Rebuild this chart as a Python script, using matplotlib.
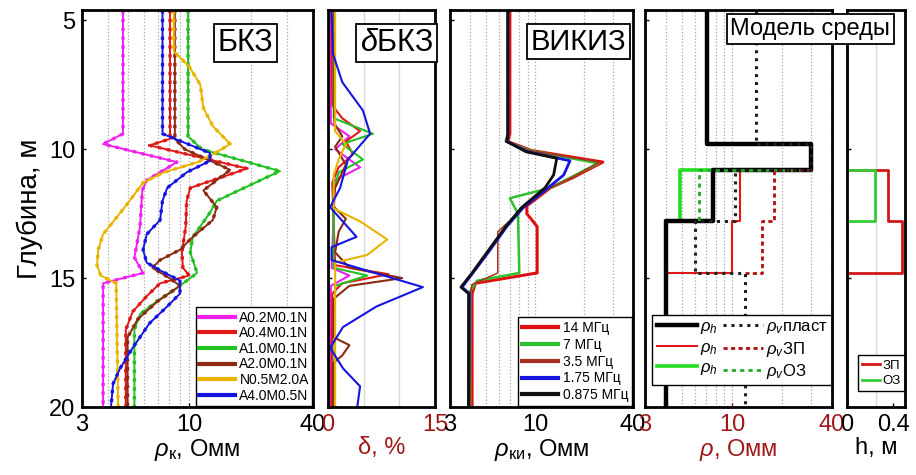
import numpy as np
import matplotlib
matplotlib.use('Agg')
import matplotlib.pyplot as plt
from matplotlib.ticker import LogLocator, NullFormatter, FixedLocator

plt.rcParams['font.family'] = ['Liberation Sans', 'DejaVu Sans']
plt.rcParams['mathtext.fontset'] = 'custom'
plt.rcParams['mathtext.it'] = 'Liberation Sans:italic'
plt.rcParams['mathtext.rm'] = 'Liberation Sans'

DEPTH_TOP, DEPTH_BOT = 4.6, 20.0
DARKRED = '#a01818'

# --- БКЗ: apparent resistivity, Ohm*m, vs depth, m ---
bkz_labels = ['A0.2M0.1N', 'A0.4M0.1N', 'A1.0M0.1N', 'A2.0M0.1N', 'N0.5M2.0A', 'A4.0M0.5N']
bkz_colors = ['#f020f0', '#e01818', '#22c022', '#8c2a14', '#e8b400', '#1515e0']

a02_d = [4.6, 9.4, 9.8, 10.5, 11.2, 11.6, 13.0, 14.2, 14.8, 15.2, 20]
a02_r = [4.75, 4.75, 3.8, 8.7, 6.2, 5.9, 5.75, 5.4, 5.95, 3.8, 3.8]
a04_d = [4.6, 9.6, 9.85, 10.75, 11.5, 12.0, 13.0, 14.0, 14.6, 14.9, 15.2, 15.7, 16.3, 17.0, 20]
a04_r = [8.05, 8.05, 6.4, 19.1, 10.1, 9.7, 9.6, 9.2, 9.3, 10.0, 7.2, 6.2, 5.3, 4.9, 4.9]
a10_d = [4.6, 9.5, 10.0, 10.85, 12.0, 12.5, 13.4, 14.0, 14.8, 15.3, 15.9, 16.4, 17.0, 20]
a10_r = [9.85, 9.85, 11.5, 27.6, 13.6, 12.5, 10.4, 10.1, 10.9, 9.0, 6.95, 5.75, 5.4, 5.4]
a20_d = [4.6, 9.6, 10.0, 10.8, 11.6, 12.25, 12.75, 13.4, 13.9, 14.3, 14.6, 15.0, 15.3, 15.9, 16.6, 17.3, 20]
a20_r = [8.5, 8.5, 9.5, 15.8, 11.7, 13.6, 13.0, 10.4, 9.0, 7.2, 6.6, 8.0, 9.0, 7.0, 5.6, 5.0, 5.0]
n05_d = [4.6, 6.2, 6.8, 7.5, 8.4, 9.1, 9.8, 10.2, 10.5, 10.9, 11.3, 12.2, 13.3, 13.9, 14.5, 14.9, 15.2, 20]
n05_r = [8.4, 8.4, 10.0, 11.3, 11.7, 13.0, 15.8, 13.0, 11.0, 7.5, 5.95, 4.9, 3.8, 3.6, 3.55, 3.7, 4.4, 4.5]
a40_d = [4.6, 9.4, 10.15, 10.45, 10.9, 11.5, 12.0, 12.75, 13.3, 13.9, 14.4, 14.7, 15.1, 15.6, 16.1, 16.75, 17.7, 18.5, 19.1, 20]
a40_r = [7.4, 7.4, 12.6, 12.6, 9.7, 7.8, 7.4, 7.2, 6.2, 5.95, 6.2, 7.2, 9.0, 9.0, 7.8, 6.4, 5.3, 4.6, 4.25, 4.15]

bkz_depths = [a02_d, a04_d, a10_d, a20_d, n05_d, a40_d]
bkz_rho = [a02_r, a04_r, a10_r, a20_r, n05_r, a40_r]

# --- δБКЗ: relative misfit, % ---
d_a02_d = [4.6, 9.0, 9.5, 10.0, 10.7, 11.2, 14.6, 14.9, 15.3, 20]
d_a02_v = [0.3, 0.4, 3.0, 1.0, 4.5, 1.0, 0.5, 3.0, 0.4, 0.3]
d_a04_d = [4.6, 8.3, 8.8, 9.3, 9.7, 10.2, 10.7, 11.3, 14.5, 14.85, 15.2, 15.6, 20]
d_a04_v = [0.5, 0.6, 2.0, 4.5, 2.5, 3.5, 1.5, 0.6, 1.0, 8.5, 2.0, 0.6, 0.5]
d_a10_d = [4.6, 8.8, 9.4, 9.8, 10.4, 10.9, 11.6, 14.6, 14.9, 15.3, 20]
d_a10_v = [0.8, 0.8, 6.3, 2.0, 4.9, 1.5, 0.8, 0.8, 5.5, 1.0, 0.8]
d_a20_d = [4.6, 9.0, 9.5, 9.9, 10.6, 11.5, 12.2, 12.7, 13.2, 14.0, 14.6, 15.0, 15.3, 15.8, 17.3, 17.6, 18.0, 18.3, 20]
d_a20_v = [0.9, 0.9, 2.0, 1.0, 2.5, 1.0, 0.7, 2.5, 1.5, 1.0, 3.0, 10.4, 3.0, 0.8, 0.8, 3.0, 2.0, 0.7, 0.7]
d_n05_d = [4.6, 9.3, 9.8, 10.4, 11.0, 12.3, 12.8, 13.5, 14.1, 14.4, 20]
d_n05_v = [1.0, 1.0, 2.5, 1.5, 0.8, 0.8, 4.5, 8.3, 5.5, 1.0, 1.0]
d_a40_d = [4.6, 6.3, 7.4, 8.5, 9.4, 10.4, 11.5, 12.25, 13.4, 13.8, 14.3, 15.35, 16.1, 16.9, 17.7, 18.5, 19.2, 20]
d_a40_v = [0.5, 0.7, 2.0, 4.9, 5.9, 2.8, 1.7, 0.3, 4.0, 0.5, 0.5, 13.3, 6.8, 2.1, 0.3, 2.1, 4.5, 4.1]

delta_depths = [d_a02_d, d_a04_d, d_a10_d, d_a20_d, d_n05_d, d_a40_d]
delta_vals = [d_a02_v, d_a04_v, d_a10_v, d_a20_v, d_n05_v, d_a40_v]

# --- ВИКИЗ: apparent resistivity ---
vik_labels = ['14 МГц', '7 МГц', '3.5 МГц', '1.75 МГц', '0.875 МГц']
vik_colors = ['#e01010', '#30c030', '#a83020', '#1515e0', '#101010']
vik_widths = [2.2, 1.8, 1.1, 2.0, 2.0]

f14_d = [4.6, 9.4, 9.7, 10.05, 10.5, 11.1, 11.5, 12.2, 12.5, 13.0, 14.8, 15.2, 15.6, 20]
f14_r = [7.0, 7.0, 6.8, 9.5, 26.1, 17.1, 12.4, 8.9, 8.9, 10.3, 10.3, 4.3, 4.1, 4.1]
f7_d = [4.6, 9.4, 9.7, 10.05, 10.55, 11.1, 11.5, 11.9, 12.5, 14.8, 15.1, 15.5, 20]
f7_r = [6.8, 6.8, 6.6, 9.3, 24.4, 16.5, 12.4, 7.0, 7.85, 8.0, 4.4, 4.0, 4.0]
f35_d = [4.6, 9.4, 9.7, 10.05, 10.5, 11.1, 11.5, 12.2, 13.2, 14.8, 15.25, 15.6, 20]
f35_r = [6.8, 6.8, 6.6, 9.2, 24.8, 16.8, 12.4, 8.8, 5.9, 5.9, 4.1, 4.0, 4.0]
f175_d = [4.6, 9.4, 9.7, 10.1, 10.45, 11.0, 11.5, 12.25, 13.0, 13.9, 14.8, 15.35, 15.6, 20]
f175_r = [6.8, 6.8, 6.7, 9.0, 16.4, 15.0, 12.0, 8.5, 6.7, 5.3, 4.15, 3.56, 3.95, 3.9]
f0875_d = [4.6, 9.4, 9.7, 10.1, 10.35, 11.0, 11.5, 12.25, 13.0, 13.9, 14.8, 15.35, 15.6, 20]
f0875_r = [6.8, 6.8, 6.7, 8.8, 13.6, 13.0, 11.5, 8.3, 6.6, 5.2, 4.1, 3.5, 3.9, 3.9]

vik_depths = [f14_d, f7_d, f35_d, f175_d, f0875_d]
vik_rho = [f14_r, f7_r, f35_r, f175_r, f0875_r]

# --- модель среды: layer boundaries and properties ---
bounds = np.array([4.6, 9.8, 10.8, 12.8, 14.8, 20.0])
rho_h_plast = np.array([7.1, 30.0, 7.7, 4.0, 4.0])
rho_v_plast = np.array([14.0, 30.0, 10.5, 6.0, 12.0])
rho_h_zp = np.array([7.1, 30.0, 11.2, 10.0, 4.0])
rho_v_zp = np.array([14.0, 30.0, 18.0, 15.2, 12.0])
rho_h_oz = np.array([7.1, 30.0, 4.9, 4.0, 4.0])
rho_v_oz = np.array([14.0, 30.0, 6.3, 6.0, 12.0])
h_zp = np.array([0.0, 0.0, 0.35, 0.47, 0.0])
h_oz = np.array([0.0, 0.0, 0.24, 0.0, 0.0])


def step_xy(b, vals):
    y = np.repeat(b, 2)[1:-1]
    x = np.repeat(vals, 2)
    return x, y


def zone_xy(b, vals, base, h):
    # only the invaded layers, joined to the formation curve above and below
    idx = np.flatnonzero(h > 0)
    i0, i1 = idx[0], idx[-1]
    x, y = step_xy(b[i0:i1 + 2], vals[i0:i1 + 1])
    x = np.concatenate([[base[i0 - 1]], x, [base[i1 + 1]]])
    y = np.concatenate([[b[i0]], y, [b[i1 + 1]]])
    return x, y


fig = plt.figure(figsize=(9.16, 4.75), dpi=100)
H = 1 - 407 / 475
top = 1 - 10 / 475
axpos = [(82, 313), (328, 435), (450, 633), (645, 832), (847, 905)]
axes = []
for i, (x0, x1) in enumerate(axpos):
    ax = fig.add_axes([x0 / 916, H, (x1 - x0) / 916, top - H],
                      sharey=axes[0] if axes else None)
    axes.append(ax)
ax1, ax2, ax3, ax4, ax5 = axes


def style(ax, tickcolor='black'):
    ax.set_ylim(DEPTH_BOT, DEPTH_TOP)
    for sp in ax.spines.values():
        sp.set_linewidth(2.0)
        sp.set_zorder(10)
    ax.tick_params(direction='in', length=3, width=1, labelsize=17, pad=5)
    ax.tick_params(axis='x', colors=tickcolor, labelcolor=tickcolor)
    ax.tick_params(axis='x', which='minor', length=0)
    ax.tick_params(axis='y', colors='black')
    ax.set_yticks([5, 10, 15, 20])


def log_axis(ax):
    ax.set_xscale('log')
    ax.set_xlim(3, 40)
    ax.xaxis.set_major_locator(FixedLocator([3, 10, 40]))
    ax.set_xticklabels(['3', '10', '40'])
    ax.xaxis.set_minor_locator(LogLocator(base=10, subs=np.arange(2, 10)))
    ax.xaxis.set_minor_formatter(NullFormatter())
    ax.grid(True, which='both', axis='x', ls=':', color='0.65', lw=0.9)


def title_box(ax, text, x, size):
    ax.text(x, 0.955, text, transform=ax.transAxes, ha='right', va='top',
            fontsize=size, zorder=20, clip_on=False,
            bbox=dict(boxstyle='square,pad=0.12', fc='white', ec='black', lw=1.3))


# БКЗ
style(ax1)
log_axis(ax1)
for d, r, c, lab in zip(bkz_depths, bkz_rho, bkz_colors, bkz_labels):
    ax1.plot(r, d, color=c, lw=1.4, label=lab)
    ax1.plot(r, d, color=c, lw=2.4, ls=':')
ax1.set_ylabel('Глубина, м', fontsize=20, labelpad=4)
ax1.set_xlabel(r'$\rho_{\mathrm{к}}$, Омм', fontsize=17, labelpad=1)
title_box(ax1, 'БКЗ', 0.83, 22)
leg = ax1.legend(loc='lower right', fontsize=10, handlelength=2.6, handletextpad=0.3,
                 labelspacing=0.12, borderpad=0.25, borderaxespad=0.05,
                 fancybox=False, edgecolor='black', framealpha=1)
leg.get_frame().set_linewidth(1.0)
for ln in leg.get_lines():
    ln.set_linewidth(3)

# δБКЗ
style(ax2, DARKRED)
ax2.set_xlim(0, 15)
ax2.set_xticks([0, 15])
ax2.xaxis.set_minor_locator(FixedLocator([5, 10]))
ax2.grid(True, which='minor', axis='x', color='0.85', lw=1.0)
for d, v, c in zip(delta_depths, delta_vals, bkz_colors):
    ax2.plot(v, d, color=c, lw=1.5)
ax2.tick_params(axis='y', labelleft=False)
ax2.set_xlabel('δ, %', fontsize=17, color=DARKRED, labelpad=1)
title_box(ax2, r'$\delta$БКЗ', 0.985, 22)

# ВИКИЗ
style(ax3)
log_axis(ax3)
for d, r, c, w, lab in zip(vik_depths, vik_rho, vik_colors, vik_widths, vik_labels):
    ax3.plot(r, d, color=c, lw=w, label=lab)
ax3.tick_params(axis='y', labelleft=False)
ax3.set_xlabel(r'$\rho_{\mathrm{ки}}$, Омм', fontsize=17, labelpad=1)
title_box(ax3, 'ВИКИЗ', 0.965, 21)
leg = ax3.legend(loc='lower right', fontsize=10, handlelength=2.6, handletextpad=0.3,
                 labelspacing=0.2, borderpad=0.3, borderaxespad=0.05,
                 fancybox=False, edgecolor='black', framealpha=1)
leg.get_frame().set_linewidth(1.0)
for ln in leg.get_lines():
    ln.set_linewidth(3)

# модель среды
style(ax4, DARKRED)
log_axis(ax4)
x, y = zone_xy(bounds, rho_h_oz, rho_h_plast, h_oz)
l_oz_h, = ax4.plot(x, y, color='#22dd22', lw=2.6)
x, y = zone_xy(bounds, rho_h_zp, rho_h_plast, h_zp)
l_zp_h, = ax4.plot(x, y, color='#e01818', lw=1.5)
x, y = step_xy(bounds, rho_h_plast)
l_pl_h, = ax4.plot(x, y, color='black', lw=3.2)
x, y = zone_xy(bounds, rho_v_oz, rho_v_plast, h_oz)
l_oz_v, = ax4.plot(x, y, color='#22aa22', lw=2.0, ls=(0, (1.5, 1.5)))
x, y = zone_xy(bounds, rho_v_zp, rho_v_plast, h_zp)
l_zp_v, = ax4.plot(x, y, color='#b01010', lw=2.0, ls=(0, (1.5, 1.2)))
x, y = step_xy(bounds, rho_v_plast)
l_pl_v, = ax4.plot(x, y, color='#202020', lw=2.2, ls=(0, (1, 1.6)))
ax4.tick_params(axis='y', labelleft=False)
ax4.set_xlabel(r'$\rho$, Омм', fontsize=17, color=DARKRED, labelpad=1)
leg = ax4.legend([l_pl_h, l_zp_h, l_oz_h, l_pl_v, l_zp_v, l_oz_v],
                 [r'$\rho_h$', r'$\rho_h$', r'$\rho_h$',
                  r'$\rho_v$пласт', r'$\rho_v$ЗП', r'$\rho_v$ОЗ'],
                 ncol=2, loc='lower right', bbox_to_anchor=(1.0, 0.055),
                 fontsize=12, handlelength=2.4, handletextpad=0.2, columnspacing=0.3,
                 labelspacing=0.2, borderpad=0.25, borderaxespad=0.0,
                 fancybox=False, edgecolor='black', framealpha=1)
leg.get_frame().set_linewidth(1.0)

# мощность зон
style(ax5)
ax5.set_xlim(0, 0.5)
ax5.set_xticks([0, 0.4])
ax5.set_xticklabels(['0', '0.4'])
ax5.xaxis.set_minor_locator(FixedLocator([0.25]))
ax5.grid(True, which='minor', axis='x', color='0.85', lw=1.0)
x, y = step_xy(bounds, h_zp)
ax5.plot(x, y, color='#d01818', lw=2.0, label='ЗП')
x, y = step_xy(bounds, h_oz)
ax5.plot(x, y, color='#33cc33', lw=2.0, label='ОЗ')
ax5.tick_params(axis='y', labelleft=False)
ax5.set_xlabel('h, м', fontsize=17, labelpad=1)
leg = ax5.legend(loc='lower right', bbox_to_anchor=(1.0, 0.04), fontsize=9.5,
                 handlelength=1.4, handletextpad=0.2, labelspacing=0.25,
                 borderpad=0.3, borderaxespad=0.0,
                 fancybox=False, edgecolor='black', framealpha=1)
leg.get_frame().set_linewidth(1.0)

# title of the model panel spans into the last panel, so put it on the figure
fig.text(890 / 916, 1 - 18 / 475, 'Модель среды', ha='right', va='top',
         fontsize=17, zorder=20,
         bbox=dict(boxstyle='square,pad=0.15', fc='white', ec='black', lw=1.3))

fig.savefig('out.png', dpi=100)
